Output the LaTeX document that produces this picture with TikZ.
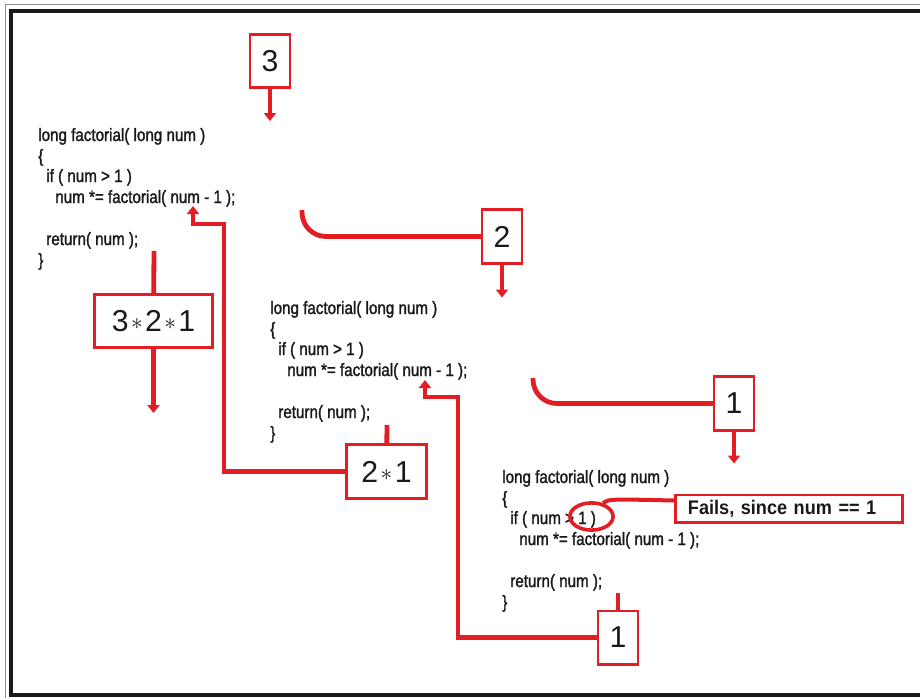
\documentclass[tikz,border=0pt]{standalone}
\usepackage{fontspec}
\setmainfont{Liberation Sans}
\newfontfamily\codefont{Liberation Sans}[FakeStretch=0.85, FakeBold=1.6]
\newfontfamily\notefont{Liberation Sans}[FakeStretch=0.92]
\usetikzlibrary{arrows.meta, shapes.geometric}
\definecolor{markred}{RGB}{226,30,36}
\newcommand{\mulstar}{\hspace{0.08em}\raisebox{0.05em}{\scalebox{0.8}{$\ast$}}\hspace{0.08em}}

\tikzset{
  codeline/.style={anchor=base west, inner sep=0pt, text=black!90, font=\codefont\fontsize{12.7pt}{14.9pt}\selectfont},
  numbox/.style={draw=markred, line width=0.07cm, fill=white, inner sep=0pt, minimum width=1cm, minimum height=1.33cm, text=black!90, font=\fontsize{21.5pt}{24pt}\selectfont},
  redline/.style={draw=markred, line width=0.12cm},
  redarrow/.style={redline, -{Triangle[length=0.2cm, width=0.3cm]}},
}

\begin{document}
\begin{tikzpicture}[x=0.025cm, y=-0.025cm]
\useasboundingbox (0,0) rectangle (920,697);
\clip (0,0) rectangle (920,697);
% frame
\draw[black!45, line width=0.03cm] (5.5,4.5) rectangle (935,710);
\draw[black!90, line width=0.1cm] (11,11) rectangle (935,695);

% first call
\node[codeline] (fA1) at (38,141) {long factorial( long num )};
\node[codeline] (fA2) at (38,162) {\{};
\node[codeline] (fA3) at (46,182) {if ( num > 1 )};
\node[codeline] (fA4) at (55,203) {num *= factorial( num - 1 );};
\node[codeline] (fA5) at (46,245) {return( num );};
\node[codeline] (fA6) at (38,266) {\}};

% second call
\node[codeline] (fB1) at (270,314) {long factorial( long num )};
\node[codeline] (fB2) at (270,335) {\{};
\node[codeline] (fB3) at (278,355) {if ( num > 1 )};
\node[codeline] (fB4) at (287,376) {num *= factorial( num - 1 );};
\node[codeline] (fB5) at (278,418) {return( num );};
\node[codeline] (fB6) at (270,439) {\}};

% third call
\node[codeline] (fC1) at (502,483) {long factorial( long num )};
\node[codeline] (fC2) at (502,504) {\{};
\node[codeline] (fC3) at (510,524) {if ( num > 1 )};
\node[codeline] (fC4) at (519,545) {num *= factorial( num - 1 );};
\node[codeline] (fC5) at (510,587) {return( num );};
\node[codeline] (fC6) at (502,608) {\}};

\coordinate (callA) at (302,210);
\coordinate (callB) at (533,378);
\coordinate (backA) at (154,251);
\coordinate (backB) at (387,425);
\coordinate (backC) at (618,593);
\coordinate (useA) at (193,206);
\coordinate (useB) at (425,380);

% calls going down
\draw[redline, rounded corners=0.6cm] (callA) |- (502,236.5);
\draw[redline, rounded corners=0.6cm] (callB) |- (734,403.5);

% values coming back
\draw[redline] (backA) -- (153.5,321);
\draw[redline] (backB) -- (386.5,471.5);
\draw[redline] (backC) -- (618,637.5);

\node[numbox] (box3) at (270,61) {3};
\node[numbox] (box2) at (502,236.5) {2};
\node[numbox] (box1) at (734,403.5) {1};
\node[numbox] (ret1) at (618,637.5) {1};
\node[numbox, minimum width=2.93cm] (prod321) at (153.5,321) {3\mulstar2\mulstar1};
\node[numbox, minimum width=1.98cm] (prod21) at (386.5,471.5) {2\mulstar1};
\node[numbox, minimum height=0.68cm, inner xsep=0.32cm, text width=5.05cm, align=left, font=\notefont\bfseries\fontsize{14pt}{16pt}\selectfont] (fails) at (789,508.5) {Fails, since num == 1};
\node[ellipse, draw=markred, line width=0.09cm, minimum width=1.08cm, minimum height=0.68cm, inner sep=0pt] (cond) at (591.5,516.5) {};

\draw[redarrow] (box3.south) -- ++(0,32);
\draw[redarrow] (box2.south) -- ++(0,33);
\draw[redarrow] (box1.south) -- ++(0,32);
\draw[redarrow] (prod321.south) -- ++(0,64);
\draw[redarrow] (prod21.west) -| (224,224) -| (useA);
\draw[redarrow] (ret1.west) -| (458,397) -| (useB);
\draw[markred, line width=0.1cm] (cond.50) .. controls (609,499) .. ([yshift=0.2cm]fails.west);

\end{tikzpicture}
\end{document}
